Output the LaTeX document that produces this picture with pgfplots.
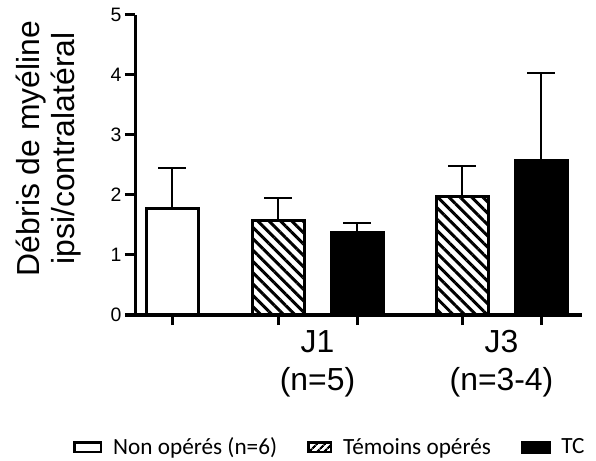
\documentclass[border=0pt]{standalone}
\usepackage{fontspec}
\setmainfont{Liberation Sans}
\newfontfamily\legfont{Carlito}
\usepackage{pgfplots}
\pgfplotsset{compat=1.18}
\usetikzlibrary{patterns.meta}
\pgfplotsset{myerr/.style={
  error bars/y dir=plus, error bars/y explicit,
  error bars/error mark=|,
  error bars/error bar style={line width=2bp, black},
  error bars/error mark options={line width=2bp, mark size=14bp, black}}}

\begin{document}
\begin{tikzpicture}
\begin{axis}[
  at={(135bp,146bp)}, anchor=south west,
  scale only axis, width=447bp, height=300bp,
  xmin=135, xmax=582, ymin=0, ymax=5,
  axis lines=left,
  axis line style={-, line width=3bp},
  ybar, bar shift=0pt, bar width=52,
  ytick={0,1,2,3,4,5},
  xtick={172,278,357,462,541}, xticklabels={,,,,},
  tick align=outside,
  major tick length=10bp,
  every tick/.style={line width=3bp, black},
  yticklabel style={font=\fontsize{19.5}{19.5}\selectfont},
  /pgf/number format/assume math mode=true,
  extra x ticks={317.5,501.5},
  extra x tick labels={J1\\(n=5), J3\\(n=3-4)},
  extra x tick style={major tick length=0pt, xticklabel style={align=center, yshift=-12bp, font=\fontsize{32}{38}\selectfont}},
  ylabel={Débris de myéline\\ipsi/contralatéral},
  ylabel style={at={(axis description cs:-0.1935,0.555)}, anchor=center, align=center, font=\fontsize{32}{35}\selectfont},
  legend columns=3,
  legend cell align=left,
  legend style={at={(axis description cs:-0.1387,-0.44)}, anchor=west, draw=none, fill=none,
     inner xsep=0pt, inner ysep=0pt, font=\legfont\fontsize{23.3}{23.3}\selectfont,
     nodes={inner sep=0pt},
     /tikz/every odd column/.append style={column sep=11bp},
     /tikz/every even column/.append style={column sep=30bp}},
]
\addplot[fill=white, draw=black, line width=3bp, forget plot, myerr]
  coordinates {(172,1.77) +- (0,0.68)};
\addplot[pattern={Lines[angle=-45,distance=8bp,line width=3bp]}, pattern color=black, draw=black, line width=3bp, forget plot, myerr]
  coordinates {(278,1.58) +- (0,0.37) (462,1.98) +- (0,0.50)};
\addplot[fill=black, draw=black, line width=3bp, forget plot, myerr]
  coordinates {(357,1.38) +- (0,0.15) (541,2.57) +- (0,1.46)};
\addlegendimage{legend image code/.code={\draw[line width=2.5bp, draw=black, fill=white] (1.25bp,-4.75bp) rectangle (27.75bp,4.75bp);}}
\addlegendentry{Non opérés (n=6)}
\addlegendimage{legend image code/.code={\draw[line width=2.5bp, draw=black, pattern={Lines[angle=45,distance=6bp,line width=2.5bp]}, pattern color=black] (1.25bp,-4.75bp) rectangle (23.75bp,4.75bp);}}
\addlegendentry{Témoins opérés}
\addlegendimage{legend image code/.code={\fill[black] (0bp,-6bp) rectangle (29bp,6bp);}}
\addlegendentry{TC}
\end{axis}
\pgfresetboundingbox
\path[use as bounding box] (0,0) rectangle (596bp,461bp);
\end{tikzpicture}
\end{document}
